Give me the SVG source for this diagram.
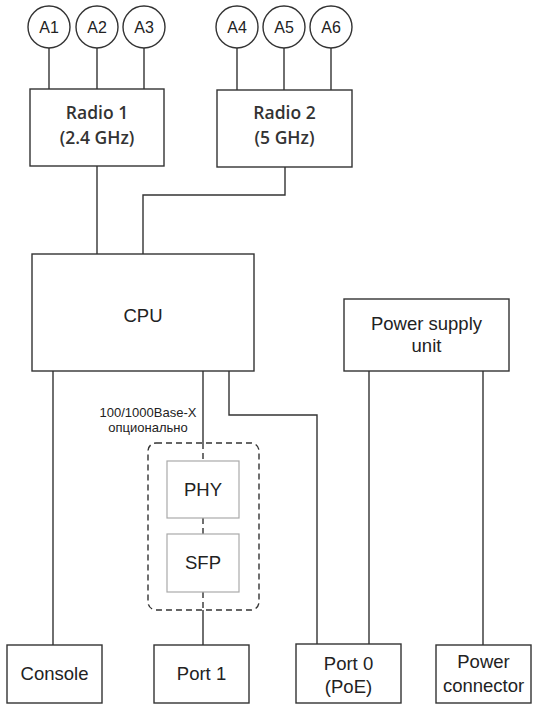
<svg xmlns="http://www.w3.org/2000/svg" width="542" height="712" viewBox="0 0 542 712">
<style>
.box{fill:#fff;stroke:#333;stroke-width:1.4}
.gbox{fill:#fff;stroke:#aaa;stroke-width:1.2}
.ant{fill:#fff;stroke:#333;stroke-width:1.4}
.ln{fill:none;stroke:#333;stroke-width:1.4}
.dl{fill:none;stroke:#333;stroke-width:1.4;stroke-dasharray:6 4}
.t{font-family:"Liberation Sans",Arial,sans-serif;font-size:18.5px;fill:#222;text-anchor:middle}
.ta{font-family:"Liberation Sans",Arial,sans-serif;font-size:16px;fill:#222;text-anchor:middle}
.tr{font-family:"Open Sans",sans-serif;font-weight:600;font-size:17.5px;fill:#333;text-anchor:middle}
.ts{font-family:"Liberation Sans",Arial,sans-serif;font-size:13px;fill:#222;text-anchor:middle}
</style>
<g id="connectors">
<line class="ln" x1="49" y1="48" x2="49" y2="89"/>
<line class="ln" x1="97" y1="48" x2="97" y2="89"/>
<line class="ln" x1="144" y1="48" x2="144" y2="89"/>
<line class="ln" x1="237" y1="48" x2="237" y2="90"/>
<line class="ln" x1="284" y1="48" x2="284" y2="90"/>
<line class="ln" x1="331" y1="48" x2="331" y2="90"/>
<line class="ln" x1="97" y1="166" x2="97" y2="254"/>
<polyline class="ln" points="285,167 285,195 143,195 143,254"/>
<line class="ln" x1="53" y1="371" x2="53" y2="645"/>
<line class="ln" x1="203" y1="371" x2="203" y2="443"/>
<line class="dl" x1="203" y1="443" x2="203" y2="461"/>
<line class="dl" x1="203" y1="518" x2="203" y2="534"/>
<line class="dl" x1="203" y1="592" x2="203" y2="610"/>
<line class="ln" x1="203" y1="610" x2="203" y2="645"/>
<polyline class="ln" points="229,371 229,415 317,415 317,644"/>
<line class="ln" x1="369" y1="371" x2="369" y2="644"/>
<line class="ln" x1="483" y1="371" x2="483" y2="645"/>
</g>
<g id="A1"><circle class="ant" cx="49" cy="27" r="21"/><text class="ta" x="49" y="33">A1</text></g>
<g id="A2"><circle class="ant" cx="97" cy="27" r="21"/><text class="ta" x="97" y="33">A2</text></g>
<g id="A3"><circle class="ant" cx="144" cy="27" r="21"/><text class="ta" x="144" y="33">A3</text></g>
<g id="A4"><circle class="ant" cx="237" cy="27" r="21"/><text class="ta" x="237" y="33">A4</text></g>
<g id="A5"><circle class="ant" cx="284" cy="27" r="21"/><text class="ta" x="284" y="33">A5</text></g>
<g id="A6"><circle class="ant" cx="331" cy="27" r="21"/><text class="ta" x="331" y="33">A6</text></g>
<g id="radio1"><rect class="box" x="30" y="89" width="134" height="77"/><text class="tr" x="97" y="119">Radio 1</text><text class="tr" x="97" y="144">(2.4 GHz)</text></g>
<g id="radio2"><rect class="box" x="217" y="90" width="135" height="77"/><text class="tr" x="284.5" y="119">Radio 2</text><text class="tr" x="284.5" y="144">(5 GHz)</text></g>
<g id="cpu"><rect class="box" x="32" y="254" width="222" height="117"/><text class="t" x="143" y="322">CPU</text></g>
<g id="psu"><rect class="box" x="344" y="299" width="165" height="72"/><text class="t" x="426.5" y="330">Power supply</text><text class="t" x="426.5" y="352">unit</text></g>
<g id="optional"><rect class="dl" x="148" y="443" width="111" height="167" rx="8"/><text class="ts" x="148" y="417">100/1000Base-X</text><text class="ts" x="148" y="432">опционально</text></g>
<g id="phy"><rect class="gbox" x="167" y="461" width="72" height="57"/><text class="t" x="203" y="496">PHY</text></g>
<g id="sfp"><rect class="gbox" x="167" y="534" width="72" height="58"/><text class="t" x="203" y="569">SFP</text></g>
<g id="console"><rect class="box" x="7" y="645" width="95" height="58"/><text class="t" x="54.5" y="680">Console</text></g>
<g id="port1"><rect class="box" x="154" y="645" width="95" height="58"/><text class="t" x="201.5" y="680">Port 1</text></g>
<g id="port0"><rect class="box" x="296" y="644" width="105" height="59"/><text class="t" x="348.5" y="670">Port 0</text><text class="t" x="348.5" y="693">(PoE)</text></g>
<g id="powerconn"><rect class="box" x="436" y="645" width="95" height="58"/><text class="t" x="483.5" y="668">Power</text><text class="t" x="483.5" y="692">connector</text></g>
</svg>
